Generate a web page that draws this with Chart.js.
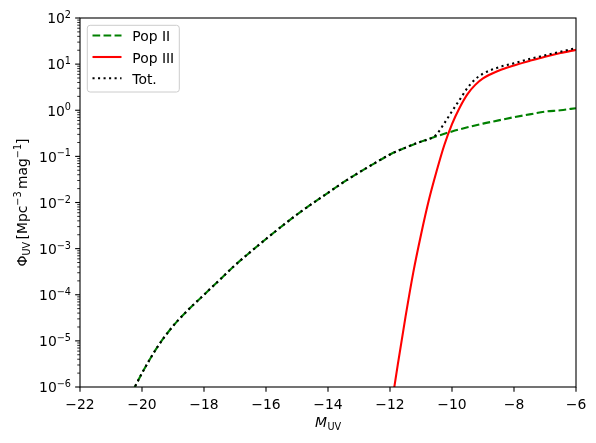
<!DOCTYPE html>
<html>
<head>
<meta charset="utf-8">
<script src="https://cdn.jsdelivr.net/npm/chart.js@4/dist/chart.umd.min.js"></script>
<style>
  html, body { margin: 0; padding: 0; background: #fff; }
  #wrap { width: 596px; height: 443px; position: relative; }
</style>
</head>
<body>
<div id="wrap"><canvas id="c" width="596" height="443"></canvas></div>
<script>
// ---- data ----
const popIIx = [-20.3, -20.0, -19.5, -19.0, -18.5, -18.0, -17.5, -17.0, -16.5, -16.0, -15.5, -15.0, -14.5, -14.0, -13.5, -13.0, -12.5, -12.0, -11.5, -11.0, -10.5, -10.0, -9.5, -9.0, -8.5, -8.0, -7.5, -7.0, -6.5, -6.0];
const popIIy = [8.13e-7, 2.0e-6, 7.41e-6, 2.09e-5, 4.79e-5, 1.0e-4, 2.09e-4, 4.37e-4, 8.51e-4, 1.62e-3, 3.02e-3, 5.50e-3, 9.55e-3, 0.0162, 0.0275, 0.0447, 0.0708, 0.110, 0.155, 0.209, 0.272, 0.347, 0.427, 0.513, 0.603, 0.708, 0.813, 0.933, 1.00, 1.11];

const popIIIx = [-11.9, -11.75, -11.5, -11.25, -11.0, -10.75, -10.5, -10.25, -10.0, -9.75, -9.5, -9.25, -9.0, -8.5, -8.0, -7.5, -7.0, -6.5, -6.0];
const popIIIy = [6.76e-7, 3.02e-6, 3.31e-5, 3.02e-4, 2.0e-3, 0.0110, 0.0468, 0.174, 0.501, 1.15, 2.24, 3.55, 4.90, 7.16, 9.33, 11.7, 14.5, 17.4, 20.4];

const totX = [-20.3, -20.0, -19.5, -19.0, -18.5, -18.0, -17.5, -17.0, -16.5, -16.0, -15.5, -15.0, -14.5, -14.0, -13.5, -13.0, -12.5, -12.0, -11.5, -11.0, -10.75, -10.5, -10.25, -10.0, -9.75, -9.5, -9.25, -9.0, -8.5, -8.0, -7.5, -7.0, -6.5, -6.0];
const totY = [8.13e-7, 2.0e-6, 7.41e-6, 2.09e-5, 4.79e-5, 1.0e-4, 2.09e-4, 4.37e-4, 8.51e-4, 1.62e-3, 3.02e-3, 5.50e-3, 9.55e-3, 0.0162, 0.0275, 0.0447, 0.0708, 0.110, 0.155, 0.209, 0.235, 0.300, 0.520, 0.950, 1.70, 3.05, 4.70, 6.20, 8.50, 10.5, 12.9, 15.5, 18.6, 22.4];

const seriesLabels = ['Pop II', 'Pop III', 'Tot.'];
const xTicks = [-22, -20, -18, -16, -14, -12, -10, -8, -6];
const xTickLabels = ['−22', '−20', '−18', '−16', '−14', '−12', '−10', '−8', '−6'];
const yTicks = [1e-6, 1e-5, 1e-4, 1e-3, 1e-2, 1e-1, 1e0, 1e1, 1e2];
const yTickExps = ['−6', '−5', '−4', '−3', '−2', '−1', '0', '1', '2'];

// ---- helpers ----
const FAM = '"DejaVu Sans", sans-serif';
const FS = 13.9, SS = 9.7;
const LW = 2.08;
function pts(xs, ys) { return xs.map((x, i) => ({ x: x, y: ys[i] })); }
function font(size, italic) { return (italic ? 'italic ' : '') + size + 'px ' + FAM; }
function drawParts(ctx, parts, x, y, align) {
  let total = 0;
  parts.forEach(p => { ctx.font = font(p.size, p.italic); p.w = ctx.measureText(p.t).width; total += p.w + (p.gap || 0); });
  let cx = align === 'center' ? x - total / 2 : (align === 'right' ? x - total : x);
  ctx.textAlign = 'left';
  ctx.textBaseline = 'alphabetic';
  parts.forEach(p => {
    ctx.font = font(p.size, p.italic);
    ctx.fillText(p.t, cx, y + (p.dy || 0));
    cx += p.w + (p.gap || 0);
  });
}

const styles = [
  { color: '#008000', dash: [7.7, 3.33] },
  { color: '#ff0000', dash: [] },
  { color: '#000000', dash: [2.08, 3.44] }
];

const axesPlugin = {
  id: 'mplAxes',
  afterDraw(chart) {
    const ctx = chart.ctx, a = chart.chartArea;
    const xs = chart.scales.x, ys = chart.scales.y;
    ctx.save();
    ctx.fillStyle = '#000';
    ctx.strokeStyle = '#000';
    // x ticks
    ctx.lineWidth = 1.1;
    xTicks.forEach((v, i) => {
      const px = xs.getPixelForValue(v);
      ctx.beginPath(); ctx.moveTo(px, a.bottom); ctx.lineTo(px, a.bottom + 4.86); ctx.stroke();
      ctx.font = font(FS);
      ctx.textAlign = 'center'; ctx.textBaseline = 'alphabetic';
      ctx.fillText(xTickLabels[i], px, 408.5);
    });
    // y major ticks + labels
    yTicks.forEach((v, i) => {
      const py = ys.getPixelForValue(v);
      ctx.lineWidth = 1.1;
      ctx.beginPath(); ctx.moveTo(a.left, py); ctx.lineTo(a.left - 4.86, py); ctx.stroke();
      drawParts(ctx, [
        { t: '10', size: FS },
        { t: yTickExps[i], size: SS, dy: -5.2 }
      ], 71, py + 5.3, 'right');
    });
    // y minor ticks
    ctx.lineWidth = 0.83;
    for (let i = 0; i < yTicks.length - 1; i++) {
      for (let m = 2; m <= 9; m++) {
        const py = ys.getPixelForValue(yTicks[i] * m);
        ctx.beginPath(); ctx.moveTo(a.left, py); ctx.lineTo(a.left - 2.78, py); ctx.stroke();
      }
    }
    // frame
    ctx.lineWidth = 1.1;
    ctx.strokeRect(a.left, a.top, a.right - a.left, a.bottom - a.top);
    // x title
    drawParts(ctx, [
      { t: 'M', size: FS, italic: true, gap: 0.5 },
      { t: 'UV', size: SS, dy: 2.8 }
    ], (a.left + a.right) / 2, 427, 'center');
    // y title
    ctx.save();
    ctx.translate(27, (a.top + a.bottom) / 2);
    ctx.rotate(-Math.PI / 2);
    drawParts(ctx, [
      { t: 'Φ', size: FS },
      { t: 'UV', size: SS, dy: 2.8, gap: 2.3 },
      { t: '[Mpc', size: FS },
      { t: '−3', size: SS, dy: -5.6, gap: 2.3 },
      { t: 'mag', size: FS },
      { t: '−1', size: SS, dy: -5.6 },
      { t: ']', size: FS }
    ], 0, 0, 'center');
    ctx.restore();
    // legend
    const lx = 87.3, ly = 25.3, lw = 92, lh = 66.7, r = 2.8;
    ctx.beginPath();
    ctx.moveTo(lx + r, ly);
    ctx.lineTo(lx + lw - r, ly); ctx.arcTo(lx + lw, ly, lx + lw, ly + r, r);
    ctx.lineTo(lx + lw, ly + lh - r); ctx.arcTo(lx + lw, ly + lh, lx + lw - r, ly + lh, r);
    ctx.lineTo(lx + r, ly + lh); ctx.arcTo(lx, ly + lh, lx, ly + lh - r, r);
    ctx.lineTo(lx, ly + r); ctx.arcTo(lx, ly, lx + r, ly, r);
    ctx.closePath();
    ctx.fillStyle = 'rgba(255,255,255,0.8)';
    ctx.fill();
    ctx.strokeStyle = '#cccccc';
    ctx.lineWidth = 1;
    ctx.stroke();
    const rows = [35.5, 57, 78.3];
    chart.data.datasets.forEach((ds, i) => {
      const yy = rows[i];
      ctx.strokeStyle = ds.borderColor;
      ctx.lineWidth = LW;
      ctx.setLineDash(ds.borderDash || []);
      ctx.lineCap = 'butt';
      ctx.beginPath(); ctx.moveTo(92.5, yy); ctx.lineTo(121.5, yy); ctx.stroke();
      ctx.setLineDash([]);
      ctx.fillStyle = '#000';
      ctx.font = font(FS);
      ctx.textAlign = 'left'; ctx.textBaseline = 'alphabetic';
      ctx.fillText(ds.label, 132.3, yy + 5.6);
    });
    ctx.restore();
  }
};

new Chart(document.getElementById('c'), {
  type: 'line',
  data: {
    datasets: [
      { label: seriesLabels[0], data: pts(popIIx, popIIy), borderColor: styles[0].color, borderDash: styles[0].dash, borderWidth: LW, pointRadius: 0, fill: false, cubicInterpolationMode: 'monotone', order: 2 },
      { label: seriesLabels[1], data: pts(popIIIx, popIIIy), borderColor: styles[1].color, borderDash: styles[1].dash, borderWidth: LW, pointRadius: 0, fill: false, cubicInterpolationMode: 'monotone', order: 1 },
      { label: seriesLabels[2], data: pts(totX, totY), borderColor: styles[2].color, borderDash: styles[2].dash, borderWidth: LW, pointRadius: 0, fill: false, cubicInterpolationMode: 'monotone', order: 0 }
    ]
  },
  options: {
    responsive: false,
    animation: false,
    devicePixelRatio: 1,
    layout: { padding: { left: 80, right: 20, top: 18, bottom: 56 } },
    plugins: { legend: { display: false }, tooltip: { enabled: false } },
    scales: {
      x: { type: 'linear', min: -22, max: -6, display: false },
      y: { type: 'logarithmic', min: 1e-6, max: 1e2, display: false }
    }
  },
  plugins: [axesPlugin]
});
</script>
</body>
</html>
